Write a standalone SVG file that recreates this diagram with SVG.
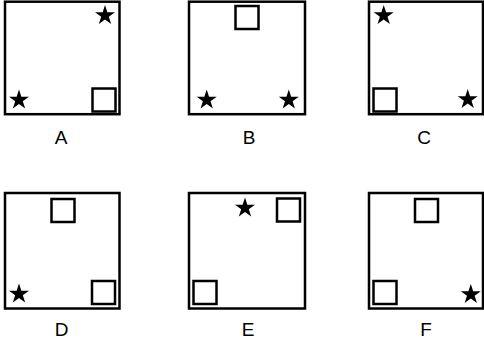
<svg xmlns="http://www.w3.org/2000/svg" width="484" height="347" viewBox="0 0 484 347">
<style>
.box{fill:#fff;stroke:#000;stroke-width:2.5}
.sq{fill:none;stroke:#000;stroke-width:2.5}
.lbl{font-family:"Liberation Sans",Arial,sans-serif;font-size:19px;fill:#000;text-anchor:middle}
</style>
<defs>
<path id="star" d="M0,-10.5 L2.357,-3.244 L9.986,-3.245 L3.814,1.239 L6.172,8.495 L0,4.01 L-6.172,8.495 L-3.814,1.239 L-9.986,-3.245 L-2.357,-3.244 Z" fill="#000"/>
</defs>
<rect width="484" height="347" fill="#fff"/>
<g id="panelA">
<rect class="box" x="5" y="1.7" width="114.5" height="112.5"/>
<use href="#star" x="105" y="15.5"/>
<use href="#star" x="19" y="100"/>
<rect class="sq" x="92.5" y="88.5" width="23" height="23"/>
<text class="lbl" x="61" y="144">A</text>
</g>
<g id="panelB">
<rect class="box" x="189" y="1.7" width="116" height="112.5"/>
<rect class="sq" x="235.5" y="6" width="23" height="23"/>
<use href="#star" x="206.7" y="100"/>
<use href="#star" x="288.8" y="100"/>
<text class="lbl" x="249" y="144">B</text>
</g>
<g id="panelC">
<rect class="box" x="369" y="1.7" width="114" height="112.5"/>
<use href="#star" x="383.7" y="15.5"/>
<rect class="sq" x="373.5" y="88.5" width="23" height="23"/>
<use href="#star" x="467.7" y="99.5"/>
<text class="lbl" x="424" y="144">C</text>
</g>
<g id="panelD">
<rect class="box" x="5" y="193" width="114.5" height="115.5"/>
<rect class="sq" x="51.5" y="199" width="23" height="23"/>
<rect class="sq" x="92" y="281" width="23" height="23"/>
<use href="#star" x="19" y="294"/>
<text class="lbl" x="61.5" y="336">D</text>
</g>
<g id="panelE">
<rect class="box" x="189" y="193" width="116" height="115.5"/>
<use href="#star" x="245" y="208"/>
<rect class="sq" x="277" y="198.5" width="23" height="23"/>
<rect class="sq" x="193.5" y="281" width="23" height="23"/>
<text class="lbl" x="248" y="336">E</text>
</g>
<g id="panelF">
<rect class="box" x="369" y="193" width="114" height="115.5"/>
<rect class="sq" x="415" y="199" width="23" height="23"/>
<rect class="sq" x="373.5" y="281" width="23" height="23"/>
<use href="#star" x="470.8" y="294.5"/>
<text class="lbl" x="426" y="336">F</text>
</g>
</svg>
